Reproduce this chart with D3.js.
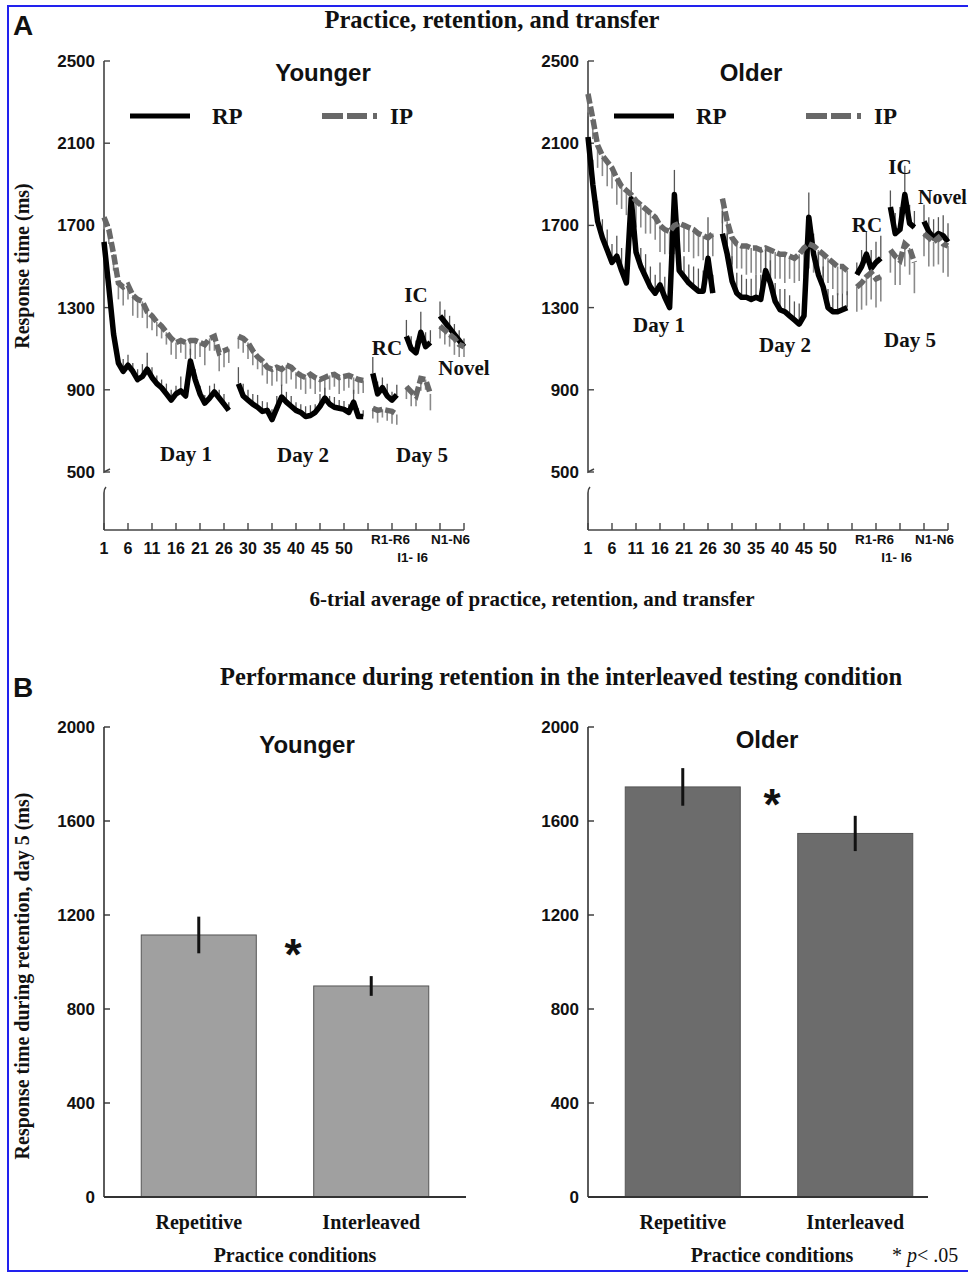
<!DOCTYPE html>
<html>
<head>
<meta charset="utf-8">
<script src="https://cdn.jsdelivr.net/npm/d3@7"></script>
<style>
body { margin: 0; background: #fff; }
svg { display: block; }
.sans { font-family: "Liberation Sans", Arial, sans-serif; font-weight: bold; }
.serif { font-family: "Liberation Serif", "Times New Roman", serif; font-weight: bold; }
</style>
</head>
<body>
<svg id="chart" width="968" height="1273"></svg>
<script>
// ---- panel A data: 6-trial block means (ms), segments = day1, day2, RC, IC, novel
let segStart = [1, 29, 57, 64, 71];
let tickBlocks = [1, 6, 11, 16, 21, 26, 31, 36, 41, 46, 51, 56, 61, 66, 71, 76];
let tickLabels = ["1", "6", "11", "16", "21", "26", "30", "35", "40", "45", "50", "", "", "", "", ""];
let condLabels = [["R1-R6", 60.7, 0], ["I1- I6", 65.3, 1], ["N1-N6", 73.2, 0]];
let rtTicks = [500, 900, 1300, 1700, 2100, 2500];

let youngRP = [
  [1620, 1400, 1170, 1030, 990, 1020, 990, 950, 965, 1000, 960, 930, 910, 880, 850, 880, 895, 870, 1040, 950, 880, 835, 860, 890, 860, 830, 800],
  [930, 870, 850, 830, 815, 795, 800, 755, 810, 865, 840, 820, 800, 790, 770, 775, 790, 820, 860, 830, 815, 810, 805, 790, 840, 770, 770],
  [980, 880, 910, 870, 850, 875],
  [1160, 1100, 1080, 1180, 1110, 1130],
  [1260, 1230, 1200, 1170, 1140, 1110]
];
let youngRPErr = [
  [60, 60, 50, 50, 60, 50, 40, 50, 60, 80, 50, 40, 40, 50, 50, 40, 70, 60, 60, 50, 40, 40, 60, 40, 40, 50, 40],
  [80, 60, 50, 50, 60, 50, 40, 50, 60, 60, 50, 50, 40, 40, 50, 50, 40, 60, 50, 40, 50, 40, 40, 40, 60, 40, 30],
  [80, 60, 50, 60, 40, 50],
  [80, 60, 60, 100, 70, 60],
  [70, 60, 60, 50, 50, 40]
];
let youngIP = [
  [1740, 1680, 1560, 1420, 1400, 1410, 1360, 1340, 1330, 1280, 1260, 1230, 1210, 1180, 1150, 1130, 1140, 1130, 1140, 1140, 1130, 1120, 1150, 1160, 1080, 1090, 1100],
  [1160, 1150, 1130, 1090, 1060, 1040, 1010, 1000, 1010, 1000, 1020, 1010, 985, 970, 960, 975, 960, 950, 960, 970, 975, 960, 965, 970, 960, 950, 945],
  [810, 800, 805, 800, 795, 780],
  [915, 890, 870, 955, 950, 880],
  [1210, 1190, 1170, 1150, 1120, 1110]
];
let youngIPErr = [
  [60, 70, 80, 80, 90, 70, 100, 90, 80, 80, 70, 70, 60, 60, 80, 80, 60, 80, 70, 90, 70, 100, 60, 70, 90, 80, 70],
  [60, 70, 80, 70, 60, 70, 80, 80, 70, 80, 90, 60, 80, 70, 80, 70, 80, 60, 90, 70, 60, 80, 70, 60, 80, 70, 60],
  [50, 60, 40, 50, 60, 50],
  [60, 70, 50, 60, 50, 80],
  [60, 70, 60, 80, 60, 50]
];
let oldRP = [
  [2130, 1900, 1720, 1640, 1580, 1520, 1550, 1480, 1420, 1830, 1570, 1500, 1450, 1400, 1370, 1410, 1350, 1300, 1850, 1480, 1450, 1420, 1400, 1380, 1380, 1540, 1370],
  [1660, 1560, 1430, 1370, 1350, 1350, 1340, 1350, 1340, 1480, 1420, 1330, 1290, 1280, 1260, 1240, 1220, 1260, 1740, 1560, 1460, 1400, 1300, 1280, 1280, 1290, 1300],
  [1460, 1500, 1560, 1490, 1520, 1540],
  [1790, 1660, 1680, 1850, 1710, 1690],
  [1720, 1670, 1640, 1660, 1650, 1620]
];
let oldRPErr = [
  [100, 120, 100, 90, 100, 90, 100, 110, 90, 130, 100, 90, 110, 100, 90, 110, 100, 100, 120, 110, 100, 90, 100, 110, 100, 200, 90],
  [110, 100, 120, 100, 110, 90, 100, 110, 120, 100, 110, 90, 100, 110, 100, 90, 100, 110, 120, 100, 110, 100, 90, 80, 90, 80, 80],
  [60, 80, 110, 90, 100, 110],
  [80, 100, 110, 140, 90, 80],
  [80, 70, 90, 80, 100, 90]
];
let oldIP = [
  [2340, 2220, 2090, 2040, 2010, 1980, 1930, 1890, 1870, 1850, 1820, 1800, 1780, 1760, 1740, 1700, 1680, 1670, 1700, 1710, 1700, 1690, 1680, 1660, 1650, 1640, 1660],
  [1830, 1720, 1640, 1610, 1600, 1600, 1590, 1590, 1580, 1590, 1580, 1570, 1560, 1560, 1550, 1540, 1560, 1590, 1610, 1600, 1580, 1560, 1540, 1520, 1500, 1500, 1480],
  [1400, 1420, 1450, 1470, 1440, 1450],
  [1580, 1550, 1530, 1610, 1590, 1520],
  [1660, 1640, 1620, 1640, 1610, 1600]
];
let oldIPErr = [
  [90, 100, 110, 100, 120, 100, 130, 110, 120, 100, 130, 110, 120, 100, 110, 130, 120, 110, 140, 110, 130, 120, 140, 110, 120, 130, 110],
  [120, 110, 130, 120, 110, 140, 120, 130, 110, 120, 140, 130, 120, 140, 110, 120, 130, 140, 120, 130, 140, 110, 120, 130, 140, 130, 120],
  [120, 130, 140, 130, 140, 120],
  [110, 140, 120, 110, 130, 150],
  [110, 140, 120, 130, 140, 150]
];

// ---- panel B data: retention day 5, interleaved test
let practiceConds = ["Repetitive", "Interleaved"];
let barTicks = [0, 400, 800, 1200, 1600, 2000];
let youngBar = [1115, 898];
let youngBarErr = [78, 42];
let oldBar = [1745, 1547];
let oldBarErr = [80, 75];

let svg = d3.select("#chart");

// frame
svg.append("rect")
  .attr("x", 8).attr("y", 6)
  .attr("width", 980).attr("height", 1265)
  .attr("fill", "none")
  .attr("stroke", "#2222ee")
  .attr("stroke-width", 2);

function addText(sel, cls, x, y, size, txt, anchor){
  return sel.append("text")
    .attr("class", cls)
    .attr("x", x).attr("y", y)
    .attr("font-size", size)
    .attr("text-anchor", anchor || "middle")
    .attr("fill", "#111")
    .text(txt);
}

function drawPractice(ox, rp, rpErr, ip, ipErr, title, notes){
  let g = svg.append("g");
  let x = d3.scaleLinear().domain([1, 76]).range([ox + 104, ox + 464]);
  let y = d3.scaleLinear().domain([500, 2500]).range([472, 61]);
  let ax = ox + 104;

  // y axis with break
  g.append("path")
    .attr("d", `M${ax},${y(2500)}V${y(500)}l6,-3M${ax + 2},487q-2,2 -2,6V530`)
    .attr("fill", "none").attr("stroke", "#444").attr("stroke-width", 1.6);
  rtTicks.forEach(function(t){
    g.append("line")
      .attr("x1", ax).attr("x2", ax + 6)
      .attr("y1", y(t)).attr("y2", y(t))
      .attr("stroke", "#444").attr("stroke-width", 1.4);
  });
  g.selectAll(".ylab").data(rtTicks).enter()
    .append("text")
    .attr("class", "sans")
    .attr("x", ax - 9).attr("y", d => y(d) + 6)
    .attr("font-size", 17)
    .attr("text-anchor", "end")
    .attr("fill", "#111")
    .text(d => d);

  // x axis
  g.append("line")
    .attr("x1", ax).attr("x2", x(76))
    .attr("y1", 530).attr("y2", 530)
    .attr("stroke", "#444").attr("stroke-width", 1.6);
  g.selectAll(".xt").data(tickBlocks).enter()
    .append("line")
    .attr("x1", d => x(d)).attr("x2", d => x(d))
    .attr("y1", 530).attr("y2", 523)
    .attr("stroke", "#444").attr("stroke-width", 1.4);
  g.selectAll(".xlab").data(tickBlocks).enter()
    .append("text")
    .attr("class", "sans")
    .attr("x", d => x(d)).attr("y", 554)
    .attr("font-size", 16)
    .attr("text-anchor", "middle")
    .attr("fill", "#111")
    .text((d, i) => tickLabels[i]);
  condLabels.forEach(function(c){
    addText(g, "sans", x(c[1]), c[2] ? 562 : 544, 13.5, c[0]);
  });

  // error bars: RP upward, IP downward
  segStart.forEach(function(s, k){
    ip[k].forEach(function(v, i){
      g.append("line")
        .attr("x1", x(s + i)).attr("x2", x(s + i))
        .attr("y1", y(v)).attr("y2", y(v - ipErr[k][i]))
        .attr("stroke", "#8a8a8a").attr("stroke-width", 1.6);
    });
    rp[k].forEach(function(v, i){
      g.append("line")
        .attr("x1", x(s + i)).attr("x2", x(s + i))
        .attr("y1", y(v)).attr("y2", y(v + rpErr[k][i]))
        .attr("stroke", "#555").attr("stroke-width", 1.3);
    });
  });

  let line = d3.line()
    .x(d => x(d[0]))
    .y(d => y(d[1]));

  segStart.forEach(function(s, k){
    g.append("path")
      .datum(rp[k].map((v, i) => [s + i, v]))
      .attr("d", line)
      .attr("fill", "none")
      .attr("stroke", "#000")
      .attr("stroke-width", 5.5)
      .attr("stroke-linejoin", "round");
  });
  segStart.forEach(function(s, k){
    g.append("path")
      .datum(ip[k].map((v, i) => [s + i, v]))
      .attr("d", line)
      .attr("fill", "none")
      .attr("stroke", "#686868")
      .attr("stroke-width", 5.5)
      .attr("stroke-dasharray", "10,3");
  });

  // title & legend
  addText(g, "sans", ox + (title === "Younger" ? 323 : 267), 81, 24, title);
  g.append("line")
    .attr("x1", ox + 130).attr("x2", ox + 190)
    .attr("y1", 116).attr("y2", 116)
    .attr("stroke", "#000").attr("stroke-width", 5);
  addText(g, "serif", ox + 212, 124, 23, "RP", "start");
  g.append("line")
    .attr("x1", ox + 322).attr("x2", ox + 377)
    .attr("y1", 116).attr("y2", 116)
    .attr("stroke", "#686868").attr("stroke-width", 6)
    .attr("stroke-dasharray", "21,4,20,6,4");
  addText(g, "serif", ox + 390, 124, 23, "IP", "start");

  notes.forEach(function(n){
    addText(g, "serif", ox + n[1], n[2], n[4] || 21, n[0], n[3] || "middle");
  });
}

drawPractice(0, youngRP, youngRPErr, youngIP, youngIPErr, "Younger", [
  ["Day 1", 186, 461], ["Day 2", 303, 462], ["Day 5", 422, 462],
  ["RC", 387, 355], ["IC", 416, 302], ["Novel", 464, 375]
]);
drawPractice(484, oldRP, oldRPErr, oldIP, oldIPErr, "Older", [
  ["Day 1", 175, 332], ["Day 2", 301, 352], ["Day 5", 426, 347],
  ["RC", 383, 232], ["IC", 416, 174], ["Novel", 434, 204, "start", 20]
]);

addText(svg, "sans", 13, 35, 28, "A", "start");
addText(svg, "serif", 492, 28, 24.5, "Practice, retention, and transfer");
addText(svg, "serif", 532, 606, 21, "6-trial average of practice, retention, and transfer");
svg.append("text")
  .attr("class", "serif")
  .attr("transform", "translate(29,266) rotate(-90)")
  .attr("font-size", 20)
  .attr("text-anchor", "middle")
  .attr("fill", "#111")
  .text("Response time (ms)");

// ---- panel B
function drawBars(ox, vals, errs, fill, title, titleX, titleY, axisEnd, star, condX){
  let g = svg.append("g");
  let ax = ox + 104;
  let x = d3.scaleBand().domain(practiceConds)
    .range([ox + 104, ox + 466])
    .paddingInner(0.333).paddingOuter(0.216);
  let y = d3.scaleLinear().domain([0, 2000]).range([1197, 727]);

  g.selectAll(".bar").data(practiceConds).enter()
    .append("rect")
    .attr("x", d => x(d))
    .attr("y", (d, i) => y(vals[i]))
    .attr("width", x.bandwidth())
    .attr("height", (d, i) => y(0) - y(vals[i]))
    .attr("fill", fill)
    .attr("stroke", "#555")
    .attr("stroke-width", 1);
  g.selectAll(".err").data(practiceConds).enter()
    .append("line")
    .attr("x1", d => x(d) + x.bandwidth() / 2)
    .attr("x2", d => x(d) + x.bandwidth() / 2)
    .attr("y1", (d, i) => y(vals[i] - errs[i]))
    .attr("y2", (d, i) => y(vals[i] + errs[i]))
    .attr("stroke", "#111").attr("stroke-width", 3);

  g.append("line")
    .attr("x1", ax).attr("x2", ax)
    .attr("y1", y(2000)).attr("y2", y(0))
    .attr("stroke", "#333").attr("stroke-width", 1.6);
  g.append("line")
    .attr("x1", ax).attr("x2", axisEnd)
    .attr("y1", y(0)).attr("y2", y(0))
    .attr("stroke", "#333").attr("stroke-width", 2);
  barTicks.forEach(function(t){
    g.append("line")
      .attr("x1", ax).attr("x2", ax + 6)
      .attr("y1", y(t)).attr("y2", y(t))
      .attr("stroke", "#333").attr("stroke-width", 1.4);
    addText(g, "sans", ax - 9, y(t) + 6, 17, t, "end");
  });
  practiceConds.forEach(function(c){
    addText(g, "serif", x(c) + x.bandwidth() / 2, 1229, 20, c);
  });
  addText(g, "serif", condX, 1262, 20, "Practice conditions");
  addText(g, "sans", titleX, titleY, 24, title);
  addText(g, "sans", star[0], star[1] + 25, 44, "*");
}

drawBars(0, youngBar, youngBarErr, "#a0a0a0", "Younger", 307, 753, 466, [293, 945], 295);
drawBars(484, oldBar, oldBarErr, "#6c6c6c", "Older", 767, 748, 928, [772, 795], 772);

addText(svg, "sans", 13, 697, 28, "B", "start");
addText(svg, "serif", 561, 685, 24.5, "Performance during retention in the interleaved testing condition");
svg.append("text")
  .attr("class", "serif")
  .attr("transform", "translate(29,976) rotate(-90)")
  .attr("font-size", 20)
  .attr("text-anchor", "middle")
  .attr("fill", "#111")
  .text("Response time during retention, day 5 (ms)");

let pnote = svg.append("text")
  .attr("x", 892).attr("y", 1262)
  .attr("font-family", "Liberation Serif, serif")
  .attr("font-size", 20)
  .attr("fill", "#111");
pnote.append("tspan").text("* ");
pnote.append("tspan").attr("font-style", "italic").text("p");
pnote.append("tspan").text("< .05");
</script>
</body>
</html>
